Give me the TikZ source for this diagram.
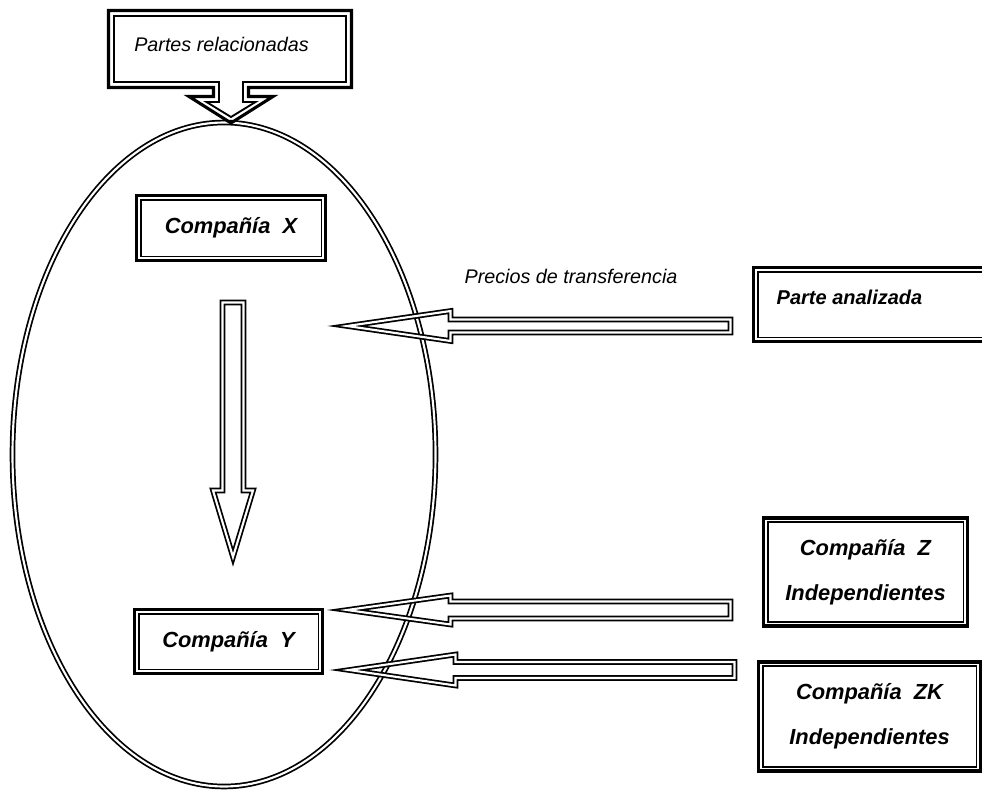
\documentclass[tikz,border=0pt]{standalone}
\usepackage{fontspec}
\setmainfont{Liberation Sans}
\usetikzlibrary{calc,shapes.geometric}

\begin{document}
\begin{tikzpicture}[x=0.75pt,y=-0.75pt,
  % two parallel lines (ellipse and block arrows)
  dbl/.style={draw, double, line width=1.3pt, double distance=1.6pt,
              line join=miter, miter limit=12},
  % thick outer frame of a box; the thin inner frame is added below
  box/.style={draw, line width=2.3pt, inner sep=0pt, align=center},
  innerline/.style={draw, line width=1.4pt},
  boxfont/.style={font=\fontsize{16.4}{33.75}\selectfont\bfseries\itshape},
  labelfont/.style={font=\fontsize{14.8}{17}\selectfont\itshape},
  % hollow block arrow from the start point (tail) to the target (tip):
  % #1 shaft half-width, #2 head half-width, #3 head length (all in px)
  blockarrow/.style n args={3}{to path={
    let \p1=(\tikztostart), \p2=(\tikztotarget),
        \n1={veclen(\x2-\x1,\y2-\y1)},
        \n2={(\x2-\x1)/\n1}, \n3={(\y2-\y1)/\n1},
        \n4={#1*0.75}, \n5={#2*0.75}, \n6={#3*0.75}
    in (\p2)
    -- ({\x2-\n6*\n2-\n5*\n3},{\y2-\n6*\n3+\n5*\n2})
    -- ({\x2-\n6*\n2-\n4*\n3},{\y2-\n6*\n3+\n4*\n2})
    -- ({\x1-\n4*\n3},{\y1+\n4*\n2})
    -- ({\x1+\n4*\n3},{\y1-\n4*\n2})
    -- ({\x2-\n6*\n2+\n4*\n3},{\y2-\n6*\n3-\n4*\n2})
    -- ({\x2-\n6*\n2+\n5*\n3},{\y2-\n6*\n3-\n5*\n2})
    -- cycle}}
]
\useasboundingbox (0,0) rectangle (982,790);
\clip (0,0) rectangle (982,790);

% the group of related parties
\node[ellipse, dbl, inner sep=0pt, minimum width=317.25pt, minimum height=498pt]
  (grupo) at (224,454.5) {};

% callout box on top, pointing down onto the group
\draw[line width=2.3pt, line join=miter]
  (108.5,10.5) -- (351.5,10.5) -- (351.5,87.5) -- (248.5,87.5) -- (248.5,96.5)
  -- (273,96.5) -- (231,123) -- (189,96.5) -- (213.5,96.5) -- (213.5,87.5)
  -- (108.5,87.5) -- cycle;
\draw[innerline, line join=miter]
  (114,16) -- (346,16) -- (346,82) -- (243,82) -- (243,102) -- (255.5,102)
  -- (231,117) -- (206.5,102) -- (219,102) -- (219,82) -- (114,82) -- cycle;
\node[labelfont] (partes) at (221.5,44) {Partes relacionadas};

% companies
\node[box, boxfont, minimum width=141.75pt, minimum height=48.75pt]
  (cx) at (231,228) {Compañía~~X};
\node[box, boxfont, minimum width=141pt, minimum height=48pt]
  (cy) at (228.5,641.5) {Compañía~~Y};
\node[box, minimum width=183.75pt, minimum height=55.5pt] (pa) at (876,304.5) {};
\node[font=\fontsize{15}{18}\selectfont\bfseries\itshape] (patext) at (849.5,297)
  {Parte analizada};
\node[box, boxfont, minimum width=153pt, minimum height=81pt]
  (cz) at (865.5,572) {Compañía~~Z\\Independientes};
\node[box, boxfont, minimum width=166.5pt, minimum height=81.75pt]
  (czk) at (869.5,716.5) {Compañía~~ZK\\Independientes};

\foreach \n in {cx,cy,pa,cz,czk}
  \draw[innerline] ([shift={(4.2pt,4.2pt)}]\n.south west)
    rectangle ([shift={(-4.2pt,-4.2pt)}]\n.north east);

\node[labelfont] (precios) at (571,276) {Precios de transferencia};

% arrow ends
\coordinate (a1s) at (730.5,326);   \coordinate (a1t) at (347,326);
\coordinate (a2s) at (730.5,610);   \coordinate (a2t) at (347,610);
\coordinate (a3s) at (734.5,670);   \coordinate (a3t) at (349,670);
\coordinate (a4s) at (233,302.5);   \coordinate (a4t) at (233,557);

\draw[dbl, blockarrow={6.5}{15}{103.5}] (a1s) to (a1t);
\draw[dbl, blockarrow={8.5}{14.5}{103.5}] (a2s) to (a2t);
\draw[dbl, blockarrow={8}{15.5}{106.5}] (a3s) to (a3t);
\draw[dbl, blockarrow={10.5}{20}{66.5}] (a4s) to (a4t);
\end{tikzpicture}
\end{document}
